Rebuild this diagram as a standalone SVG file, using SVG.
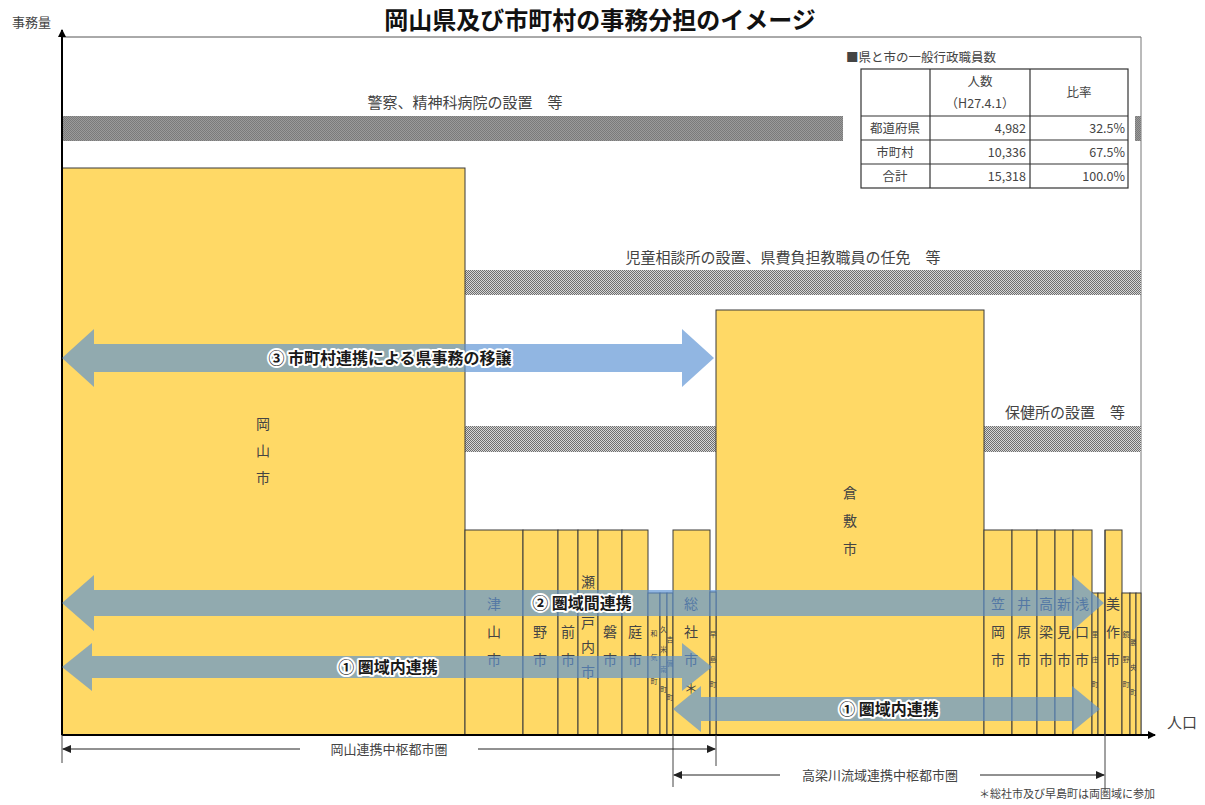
<svg xmlns="http://www.w3.org/2000/svg" width="1205" height="805" viewBox="0 0 1205 805">
<defs>
<pattern id="dots1" width="2" height="2" patternUnits="userSpaceOnUse"><rect width="2" height="2" fill="#9a9a9a"/><rect width="1" height="1" fill="#7a7a7a"/><rect x="1" y="1" width="1" height="1" fill="#7a7a7a"/></pattern>
<pattern id="dots2" width="2" height="2" patternUnits="userSpaceOnUse"><rect width="2" height="2" fill="#d6d6d6"/><rect width="1" height="1" fill="#6e6e6e"/><rect x="1" y="1" width="1" height="1" fill="#6e6e6e"/></pattern>
<marker id="ah" markerWidth="8" markerHeight="8" refX="7" refY="4" orient="auto" markerUnits="userSpaceOnUse"><path d="M0,0 L8,4 L0,8 Z" fill="#000"/></marker>
<marker id="bh" markerWidth="9" markerHeight="8" refX="8" refY="4" orient="auto-start-reverse" markerUnits="userSpaceOnUse"><path d="M0,0 L9,4 L0,8 Z" fill="#222"/></marker>
</defs>
<style>
text{font-family:"Noto Sans CJK JP","Noto Sans",sans-serif;}
.t{fill:#444;font-size:15px;}
.s{fill:#444;font-size:13px;}
.v{fill:#444;font-size:14px;text-anchor:middle;}
.vn{fill:#444;font-size:7px;text-anchor:middle;}
.bar{fill:#ffd966;stroke:#3a3a3a;stroke-width:1;}
.arr{fill:#5b92d4;fill-opacity:0.67;}
.lbl{font-size:16px;font-weight:bold;fill:#1a1a1a;stroke:#fff;stroke-width:4;stroke-linejoin:round;paint-order:stroke;text-anchor:middle;}
.tb{fill:none;stroke:#333;stroke-width:1.2;}
.tt{fill:#444;font-size:12.5px;}
</style>
<rect width="1205" height="805" fill="#fff"/>

<text x="600" y="29" text-anchor="middle" font-size="24" font-weight="bold" fill="#111">岡山県及び市町村の事務分担のイメージ</text>
<text x="12" y="27" class="s">事務量</text>
<text x="1167" y="728" class="t" font-size="14">人口</text>

<g id="frame">
<line x1="62" y1="37" x2="1141" y2="37" stroke="#555" stroke-width="1"/>
<line x1="1141" y1="37" x2="1141" y2="735" stroke="#777" stroke-width="1"/>
</g>

<g id="layer-police">
<rect x="62" y="116" width="1079" height="25" fill="url(#dots1)"/>
<text x="465" y="108" text-anchor="middle" class="t">警察、精神科病院の設置　等</text>
</g>
<g id="layer-child">
<rect x="465" y="270" width="676" height="25" fill="url(#dots2)"/>
<text x="783" y="263" text-anchor="middle" class="t">児童相談所の設置、県費負担教職員の任免　等</text>
</g>
<g id="layer-health">
<rect x="465" y="426" width="676" height="26" fill="url(#dots2)"/>
<text x="1005" y="418" class="t">保健所の設置　等</text>
</g>

<g id="table">
<rect x="843" y="44" width="292" height="148" fill="#fff"/>
<text x="846" y="62" class="tt">■県と市の一般行政職員数</text>
<rect x="861" y="69" width="267" height="119" class="tb"/>
<line x1="930" y1="69" x2="930" y2="188" class="tb"/>
<line x1="1030" y1="69" x2="1030" y2="188" class="tb"/>
<line x1="861" y1="116" x2="1128" y2="116" class="tb"/>
<line x1="861" y1="140" x2="1128" y2="140" class="tb"/>
<line x1="861" y1="164" x2="1128" y2="164" class="tb"/>
<text x="980" y="86" text-anchor="middle" class="tt">人数</text>
<text x="980" y="108" text-anchor="middle" class="tt">（H27.4.1）</text>
<text x="1079" y="97" text-anchor="middle" class="tt">比率</text>
<text x="895" y="133" text-anchor="middle" class="tt">都道府県</text>
<text x="1026" y="133" text-anchor="end" class="tt">4,982</text>
<text x="1125" y="133" text-anchor="end" class="tt">32.5%</text>
<text x="895" y="157" text-anchor="middle" class="tt">市町村</text>
<text x="1026" y="157" text-anchor="end" class="tt">10,336</text>
<text x="1125" y="157" text-anchor="end" class="tt">67.5%</text>
<text x="895" y="181" text-anchor="middle" class="tt">合計</text>
<text x="1026" y="181" text-anchor="end" class="tt">15,318</text>
<text x="1125" y="181" text-anchor="end" class="tt">100.0%</text>
</g>

<g id="okayama"><rect x="62" y="168" width="403" height="567" class="bar"/>
<text class="v" font-size="15" x="263" y="429">岡</text><text class="v" font-size="15" x="263" y="456">山</text><text class="v" font-size="15" x="263" y="483">市</text></g>
<g id="kurashiki"><rect x="716" y="310" width="268" height="425" class="bar"/>
<text class="v" font-size="15" x="850" y="498">倉</text><text class="v" font-size="15" x="850" y="526">敷</text><text class="v" font-size="15" x="850" y="554">市</text></g>

<g id="tsuyama"><rect x="465" y="530" width="58" height="205" class="bar"/><text class="v" x="494" y="609">津</text><text class="v" x="494" y="637">山</text><text class="v" x="494" y="665">市</text></g>
<g id="tamano"><rect x="523" y="530" width="35" height="205" class="bar"/><text class="v" x="540" y="637">野</text><text class="v" x="540" y="665">市</text></g>
<g id="bizen"><rect x="558" y="530" width="20" height="205" class="bar"/><text class="v" x="568" y="637">前</text><text class="v" x="568" y="665">市</text></g>
<g id="setouchi"><rect x="578" y="530" width="20" height="205" class="bar"/><text class="v" x="588" y="587">瀬</text><text class="v" x="588" y="628">戸</text><text class="v" x="588" y="652">内</text><text class="v" x="588" y="677">市</text></g>
<g id="akaiwa"><rect x="598" y="530" width="24" height="205" class="bar"/><text class="v" x="610" y="637">磐</text><text class="v" x="610" y="665">市</text></g>
<g id="maniwa"><rect x="622" y="530" width="26" height="205" class="bar"/><text class="v" x="635" y="637">庭</text><text class="v" x="635" y="665">市</text></g>
<g id="wake"><rect x="648" y="593" width="12" height="142" class="bar"/><text class="vn" x="654" y="636">和</text><text class="vn" x="654" y="660">気</text><text class="vn" x="654" y="684">町</text></g>
<g id="kumenan"><rect x="660" y="593" width="7" height="142" class="bar"/><text class="vn" x="663.5" y="632">久</text><text class="vn" x="663.5" y="652">米</text><text class="vn" x="663.5" y="672">南</text><text class="vn" x="663.5" y="692">町</text></g>
<g id="kibichuo"><rect x="667" y="593" width="6" height="142" class="bar"/><text class="vn" x="670" y="642">吉</text><text class="vn" x="670" y="666">備</text><text class="vn" x="670" y="700">町</text></g>
<g id="soja"><rect x="673" y="530" width="37" height="205" class="bar"/><text class="v" x="691" y="609">総</text><text class="v" x="691" y="637">社</text><text class="v" x="691" y="665">市</text><text class="v" x="691" y="693">＊</text></g>
<g id="hayashima"><rect x="710" y="592" width="6" height="143" class="bar"/><text class="vn" x="713" y="637">早</text><text class="vn" x="713" y="662">島</text><text class="vn" x="713" y="687">町</text></g>

<g id="kasaoka"><rect x="984" y="530" width="28" height="205" class="bar"/><text class="v" x="998" y="609">笠</text><text class="v" x="998" y="637">岡</text><text class="v" x="998" y="665">市</text></g>
<g id="ibara"><rect x="1012" y="530" width="25" height="205" class="bar"/><text class="v" x="1024" y="609">井</text><text class="v" x="1024" y="637">原</text><text class="v" x="1024" y="665">市</text></g>
<g id="takahashi"><rect x="1037" y="530" width="18" height="205" class="bar"/><text class="v" x="1046" y="609">高</text><text class="v" x="1046" y="637">梁</text><text class="v" x="1046" y="665">市</text></g>
<g id="niimi"><rect x="1055" y="530" width="18" height="205" class="bar"/><text class="v" x="1064" y="609">新</text><text class="v" x="1064" y="637">見</text><text class="v" x="1064" y="665">市</text></g>
<g id="asakuchi"><rect x="1073" y="530" width="19" height="205" class="bar"/><text class="v" x="1082" y="609">浅</text><text class="v" x="1082" y="637">口</text><text class="v" x="1082" y="665">市</text></g>
<g id="satosho"><rect x="1092" y="593" width="6" height="142" class="bar"/><text class="vn" x="1095" y="637">里</text><text class="vn" x="1095" y="662">庄</text><text class="vn" x="1095" y="687">町</text></g>
<g id="yakage"><rect x="1098" y="593" width="7" height="142" class="bar"/></g>
<g id="mimasaka"><rect x="1105" y="530" width="17" height="205" class="bar"/><text class="v" x="1113" y="609">美</text><text class="v" x="1113" y="637">作</text><text class="v" x="1113" y="665">市</text></g>
<g id="kagamino"><rect x="1122" y="593" width="8" height="142" class="bar"/><text class="vn" x="1126" y="637">鏡</text><text class="vn" x="1126" y="662">野</text><text class="vn" x="1126" y="687">町</text></g>
<g id="shoo"><rect x="1130" y="593" width="6" height="142" class="bar"/><text class="vn" x="1133.5" y="645">勝</text><text class="vn" x="1133.5" y="670">央</text><text class="vn" x="1133.5" y="695">町</text></g>
<g id="nagi"><rect x="1136" y="593" width="5" height="142" class="bar"/></g>

<g id="axes">
<line x1="62" y1="735" x2="62" y2="30" stroke="#000" stroke-width="2" marker-end="url(#ah)"/>
<line x1="62" y1="735" x2="1155" y2="735" stroke="#000" stroke-width="2" marker-end="url(#ah)"/>
</g>

<g id="connectors">
<polygon class="arr" points="62,358 94,329 94,344 682,344 682,329 714,358 682,387 682,372 94,372 94,387"/>
<polygon class="arr" points="62,603 94,575 94,590 1072,590 1072,575 1104,603 1072,631 1072,616 94,616 94,631"/>
<polygon class="arr" points="62,667 92,643 92,656 682,656 682,643 712,667 682,691 682,678 92,678 92,691"/>
<polygon class="arr" points="673,709 701,686 701,697 1072,697 1072,686 1100,709 1072,732 1072,721 701,721 701,732"/>
<text class="lbl" x="390" y="364">③ 市町村連携による県事務の移譲</text>
<text class="lbl" x="582" y="609">② 圏域間連携</text>
<text class="lbl" x="388" y="673">① 圏域内連携</text>
<text class="lbl" x="889" y="715">① 圏域内連携</text>

<line x1="62" y1="735" x2="62" y2="763" stroke="#444" stroke-width="1"/>
<line x1="716" y1="735" x2="716" y2="766" stroke="#444" stroke-width="1"/>
<line x1="673" y1="735" x2="673" y2="787" stroke="#444" stroke-width="1"/>
<line x1="1105" y1="530" x2="1105" y2="790" stroke="#444" stroke-width="1"/>
<line x1="300" y1="749" x2="63" y2="749" stroke="#222" stroke-width="1" marker-end="url(#bh)"/>
<line x1="478" y1="749" x2="715" y2="749" stroke="#222" stroke-width="1" marker-end="url(#bh)"/>
<text x="389" y="754" text-anchor="middle" class="s">岡山連携中枢都市圏</text>
<line x1="780" y1="775" x2="674" y2="775" stroke="#222" stroke-width="1" marker-end="url(#bh)"/>
<line x1="980" y1="775" x2="1104" y2="775" stroke="#222" stroke-width="1" marker-end="url(#bh)"/>
<text x="880" y="780" text-anchor="middle" class="s">高梁川流域連携中枢都市圏</text>
<text x="1155" y="798" text-anchor="end" fill="#444" font-size="11">＊総社市及び早島町は両圏域に参加</text>
</g>
</svg>
